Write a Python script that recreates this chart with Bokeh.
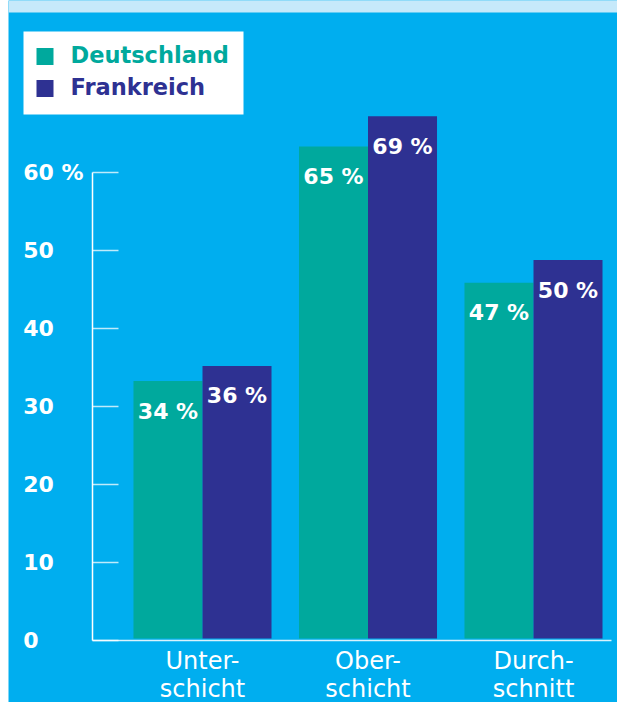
from bokeh.plotting import figure
from bokeh.models import (Range1d, LinearAxis, FixedTicker, BoxAnnotation,
                          ColumnDataSource)
from bokeh.transform import dodge
from bokeh.core.properties import value
from bokeh.embed import file_html
from bokeh.resources import INLINE

# ---------------- data ----------------
categories = ["Unter-\nschicht", "Ober-\nschicht", "Durch-\nschnitt"]
series_names = ["Deutschland", "Frankreich"]
deutschland = [34, 65, 47]
frankreich = [36, 69, 50]
y_ticks = [0, 10, 20, 30, 40, 50, 60]
y_tick_labels = ["0", "10", "20", "30", "40", "50", "60 %"]

# ---------------- style ----------------
TEAL = "#00A99D"
NAVY = "#2E3192"
BLUE = "#00AEEF"
BAND = "#C6E9FA"
FONT = "DejaVu Sans"
series_colors = [TEAL, NAVY]

W, H = 609, 702            # whole canvas is the frame
band_h = 12
axis_x_px = 84             # y-axis line, from canvas left
axis_y_px = 640            # x-axis line, from canvas top
axis_right_px = 603        # end of x-axis line
bar_zero_px = 638          # bars start here
bar_ppu = 7.57             # px per unit for the bars
tick_ppu = 7.8             # px per unit for the drawn y-axis
x_ppu = 165.5              # px between group centres
x_first_px = 194           # first group centre
bar_w = 0.417
off = bar_w / 2

def X(px):
    return (px - x_first_px) / x_ppu

def Y(py):
    return (bar_zero_px - py) / bar_ppu

x_range = Range1d(X(0), X(W))
y_range = Range1d(Y(H), Y(0))

p = figure(width=W, height=H, x_range=x_range, y_range=y_range,
           output_backend="svg", toolbar_location=None,
           y_axis_location=None, margin=(0, 0, 0, 8),
           min_border_left=0, min_border_right=0,
           min_border_top=0, min_border_bottom=0)
p.title.visible = False
p.background_fill_color = BLUE
p.border_fill_color = BLUE
p.outline_line_color = None
p.xgrid.visible = False
p.ygrid.visible = False

p.extra_y_ranges = {"ticks": Range1d(-(H - axis_y_px) / tick_ppu, axis_y_px / tick_ppu)}

# ---------------- top band ----------------
p.add_layout(BoxAnnotation(left=0, right=W, top=0, bottom=band_h,
                           left_units="canvas", right_units="canvas",
                           top_units="canvas", bottom_units="canvas",
                           fill_color=BAND, fill_alpha=1, line_color=None,
                           level="underlay"))

src = ColumnDataSource(dict(
    x=list(range(len(categories))),
    de=deutschland, fr=frankreich,
    de_lbl=[f"{v} %" for v in deutschland],
    fr_lbl=[f"{v} %" for v in frankreich],
))

p.vbar(x=dodge("x", -off, range=p.x_range), top="de", bottom=0, width=bar_w,
       source=src, fill_color=TEAL, line_color=None)
p.vbar(x=dodge("x", off, range=p.x_range), top="fr", bottom=0, width=bar_w,
       source=src, fill_color=NAVY, line_color=None)

for col, lbl, dx in (("de", "de_lbl", -off), ("fr", "fr_lbl", off)):
    p.text(x=dodge("x", dx, range=p.x_range), y=col, text=lbl, source=src,
           text_align="center", text_baseline="middle", y_offset=30,
           text_color="white", text_font=value(FONT), text_font_style="bold",
           text_font_size="22px")

# ---------------- axes ----------------
xa = p.xaxis[0]
xa.fixed_location = Y(axis_y_px)
xa.bounds = (X(axis_x_px), X(axis_right_px))
xa.ticker = FixedTicker(ticks=list(range(len(categories))))
xa.major_label_overrides = {i: c for i, c in enumerate(categories)}
xa.major_tick_line_color = None
xa.minor_tick_line_color = None
xa.axis_line_color = "white"
xa.axis_line_alpha = 0.85
xa.axis_line_width = 1.5
xa.major_label_text_color = "white"
xa.major_label_text_font = FONT
xa.major_label_text_font_size = "24px"
xa.major_label_text_line_height = 1.0
xa.major_label_standoff = 0

FIG = "\u2007"
NB = "\u00a0"
EM = "\u2003"
def pad(lbl):
    if "%" in lbl:
        return lbl
    return lbl + FIG * (2 - len(lbl)) + NB + EM

ya = LinearAxis(y_range_name="ticks", ticker=FixedTicker(ticks=y_ticks),
                bounds=(y_ticks[0], y_ticks[-1]),
                fixed_location=X(axis_x_px))
ya.major_label_overrides = {t: pad(l) for t, l in zip(y_ticks, y_tick_labels)}
ya.axis_line_color = "white"
ya.axis_line_width = 1.5
ya.major_tick_line_color = "white"
ya.major_tick_line_alpha = 0.75
ya.major_tick_line_width = 1.5
ya.major_tick_in = 26
ya.major_tick_out = 0
ya.minor_tick_line_color = None
ya.major_label_text_color = "white"
ya.major_label_text_font = FONT
ya.major_label_text_font_style = "bold"
ya.major_label_text_font_size = "22px"
ya.major_label_standoff = 9
p.add_layout(ya, "left")

# ---------------- legend (white box, swatches, labels) ----------------
box_l, box_r, box_t, box_b = 15, 235, 31, 114
sw_l, sw_size = 28, 17
row_c = [56, 88]
lab_x = 62

p.quad(left=[X(box_l)], right=[X(box_r)], top=[Y(box_t)], bottom=[Y(box_b)],
       fill_color="white", line_color=None)
leg = ColumnDataSource(dict(
    left=[X(sw_l)] * 2, right=[X(sw_l + sw_size)] * 2,
    top=[Y(c - sw_size / 2) for c in row_c],
    bottom=[Y(c + sw_size / 2) for c in row_c],
    tx=[X(lab_x)] * 2, ty=[Y(c - 1.5) for c in row_c],
    label=series_names, color=series_colors,
))
p.quad(left="left", right="right", top="top", bottom="bottom", source=leg,
       fill_color="color", line_color=None)
p.text(x="tx", y="ty", text="label", source=leg, text_color="color",
       text_align="left", text_baseline="middle", text_font=value(FONT),
       text_font_style="bold", text_font_size="22.5px")

open("out.html", "w").write(file_html(p, INLINE))
